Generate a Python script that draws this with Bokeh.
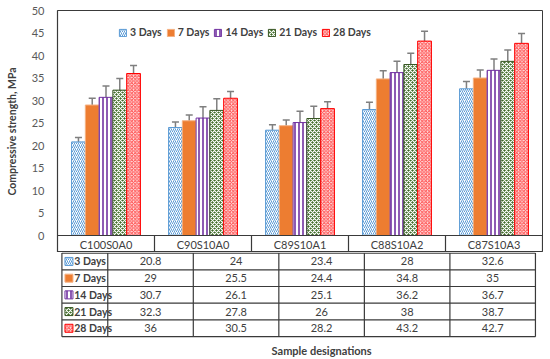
from bokeh.plotting import figure
from bokeh.models import ColumnDataSource, Range1d, Whisker, TeeHead, Legend, LegendItem, FixedTicker
from bokeh.layouts import column
from bokeh.embed import file_html
from bokeh.resources import INLINE
from bokeh.core.properties import value
import numpy as np

# ---------------- data ----------------
categories = ["C100S0A0", "C90S10A0", "C89S10A1", "C88S10A2", "C87S10A3"]
series = ["3 Days", "7 Days", "14 Days", "21 Days", "28 Days"]
d3 = [20.8, 24, 23.4, 28, 32.6]
d7 = [29, 25.5, 24.4, 34.8, 35]
d14 = [30.7, 26.1, 25.1, 36.2, 36.7]
d21 = [32.3, 27.8, 26, 38, 38.7]
d28 = [36, 30.5, 28.2, 43.2, 42.7]
e3 = [1.0, 1.2, 1.2, 1.6, 1.6]
e7 = [1.5, 1.3, 1.25, 1.8, 1.8]
e14 = [2.5, 2.5, 2.5, 2.5, 2.5]
e21 = [2.6, 2.6, 2.7, 2.5, 2.5]
e28 = [1.8, 1.5, 1.5, 2.2, 2.2]
y_ticks = [0, 5, 10, 15, 20, 25, 30, 35, 40, 45, 50]
y_title = "Compressive strength, MPa"
x_title = "Sample designations"

values = [d3, d7, d14, d21, d28]
errors = [e3, e7, e14, e21, e28]

FONT = "Lato"
TXT = "#404040"
GRID = "#3a3a3a"

styles = [
    dict(fill_color="white", line_color="#5B9BD5", hatch_pattern="/", hatch_color="#5B9BD5",
         hatch_scale=4, hatch_weight=1),
    dict(fill_color="#ED7D31", line_color="#F4B183"),
    dict(fill_color="white", line_color="#7030A0", hatch_pattern="|", hatch_color="#7030A0",
         hatch_scale=4, hatch_weight=1.6),
    dict(fill_color="#3E6B26", line_color="#375623", hatch_pattern="x", hatch_color="white",
         hatch_scale=4, hatch_weight=1.2),
    dict(fill_color="#FFE0E0", line_color="#FF0000", hatch_pattern="x", hatch_color="#FF4D4D",
         hatch_scale=3.5, hatch_weight=1),
]

W = 550
H = 359
FRAME_L = 57
FRAME_R = 8
TOP = 10
PLOT_H = 225          # pixels from y=50 to y=0
HEAD_H = 17           # header row of the table (category names)
ROW = 16.8
n = len(categories)
m = len(series)
PX = (W - FRAME_L - FRAME_R) / n   # pixels per category column
PY = PLOT_H / 50.0
BAR_W = 0.142
idx = np.arange(n) + 0.5
head_units = HEAD_H / PY

# ---------------- chart (+ header row of the table) ----------------
H_A = TOP + PLOT_H + HEAD_H
pA = figure(width=W, height=H_A, x_range=Range1d(0, n),
            y_range=Range1d(-head_units, 50),
            output_backend="svg", toolbar_location=None, x_axis_type=None,
            min_border_left=FRAME_L, min_border_right=FRAME_R, min_border_top=TOP,
            min_border_bottom=0)
pA.grid.visible = False
pA.outline_line_color = GRID
pA.outline_line_width = 1
pA.background_fill_color = "white"

yax = pA.yaxis[0]
yax.ticker = FixedTicker(ticks=y_ticks)
yax.axis_line_color = GRID
yax.axis_line_width = 1.2
yax.major_tick_line_color = None
yax.minor_tick_line_color = None
yax.major_label_standoff = 7
yax.major_label_text_font = FONT
yax.major_label_text_font_size = "11px"
yax.major_label_text_color = "#595959"
yax.axis_label = y_title
yax.axis_label_text_font = FONT
yax.axis_label_text_font_size = "10.5px"
yax.axis_label_text_font_style = "bold"
yax.axis_label_text_color = TXT
yax.axis_label_standoff = 11

items = []
for k, (name, vals, errs, st) in enumerate(zip(series, values, errors, styles)):
    xs = idx + (k - 2) * BAR_W
    src = ColumnDataSource(dict(x=xs, top=vals,
                                upper=np.array(vals) + np.array(errs),
                                lower=np.array(vals) - np.array(errs)))
    r = pA.vbar(x="x", top="top", bottom=0, width=BAR_W, source=src, line_width=1, **st)
    w = Whisker(base="x", upper="upper", lower="lower", source=src,
                line_color="#7f7f7f", line_width=1.5,
                upper_head=TeeHead(size=7, line_color="#7f7f7f", line_width=1.5),
                lower_head=TeeHead(size=7, line_color="#7f7f7f", line_width=1.5))
    pA.add_layout(w)
    items.append(LegendItem(label=name, renderers=[r]))

legend = Legend(items=items, orientation="horizontal", location=(61, HEAD_H + 203 - 6),
                border_line_color=None, background_fill_alpha=0, padding=0, margin=0,
                spacing=4, glyph_width=9, glyph_height=9, label_standoff=3,
                label_text_font=FONT, label_text_font_size="10.5px", label_text_font_style="bold",
                label_text_color=TXT, label_height=12)
pA.add_layout(legend)

# header row: line at y=0, column separators, category names
pA.segment(x0=[0], y0=[0], x1=[n], y1=[0], line_color=GRID, line_width=1.2)
sep = list(range(1, n + 1))
pA.segment(x0=sep, y0=[0] * n, x1=sep, y1=[-head_units] * n, line_color=GRID, line_width=1.2)
pA.text(x=idx, y=[-head_units / 2] * n, text=categories, text_align="center",
        text_baseline="middle", text_font=value(FONT), text_font_size="11px", text_color=TXT)

# ---------------- data rows of the table ----------------
H_B = H - H_A
left = -FRAME_L / PX
pB = figure(width=W, height=H_B, x_range=Range1d(left, n + FRAME_R / PX),
            y_range=Range1d(-H_B / ROW, 0.6 / ROW),
            output_backend="svg", toolbar_location=None, x_axis_type=None, y_axis_type=None,
            min_border_left=0, min_border_right=0, min_border_top=0, min_border_bottom=0)
pB.grid.visible = False
pB.outline_line_color = None

tl = left + 5 / PX
hy = [-kk for kk in range(m + 1)]
pB.segment(x0=[tl] * (m + 1), y0=hy, x1=[n] * (m + 1), y1=hy,
           line_color=GRID, line_width=1.2)
vx = list(range(n + 1)) + [tl]
pB.segment(x0=vx, y0=[0] * (n + 2), x1=vx, y1=[-m] * (n + 2), line_color=GRID, line_width=1.2)

for k, (name, vals, st) in enumerate(zip(series, values, styles)):
    yc = -k - 0.5
    pB.text(x=idx, y=[yc] * n, text=[f"{v:g}" for v in vals], text_align="center",
            text_baseline="middle", text_font=value(FONT), text_font_size="11px", text_color=TXT)
    pB.scatter(x=[left + 13 / PX], y=[yc], marker="square", size=8, line_width=1, **st)
    pB.text(x=[left + 19 / PX], y=[yc], text=[name], text_align="left", text_baseline="middle",
            text_font=value(FONT), text_font_size="10.5px", text_font_style="bold", text_color=TXT)

pB.text(x=[n / 2], y=[-(350 - H_A) / ROW], text=[x_title], text_align="center",
        text_baseline="middle",
        text_font=value(FONT), text_font_size="11px", text_font_style="bold", text_color=TXT)

layout = column(pA, pB, spacing=0)
open("out.html", "w").write(file_html(layout, INLINE))
